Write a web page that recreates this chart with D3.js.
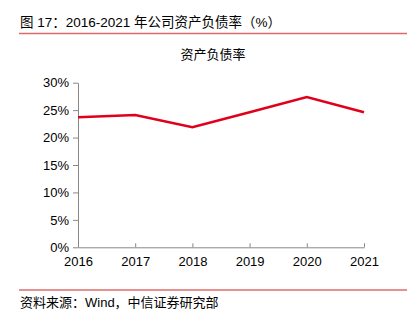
<!DOCTYPE html>
<html><head><meta charset="utf-8">
<script src="https://cdn.jsdelivr.net/npm/d3@7"></script>
<style>body{margin:0;background:#fff;}svg{display:block;font-family:"Liberation Sans","Noto Sans CJK SC",sans-serif;}</style>
</head><body><svg id="c" width="417" height="322"></svg>
<script>
const years = ["2016","2017","2018","2019","2020","2021"];
const debtRatio = [23.7, 24.1, 21.9, 24.6, 27.4, 24.6];
const yTicks = [0,5,10,15,20,25,30];
const titleText = "图 17：2016-2021 年公司资产负债率（%）";
const chartTitle = "资产负债率";
const sourceText = "资料来源：Wind，中信证券研究部";

const svg = d3.select("#c");
const mixed = '"Liberation Sans","Noto Sans CJK SC",sans-serif';
svg.append("text").attr("x",20).attr("y",27).attr("font-size",13.5).attr("font-family",mixed).attr("fill","#000").text(titleText);
svg.append("line").attr("x1",19).attr("x2",407).attr("y1",33.5).attr("y2",33.5).attr("stroke","#e06a6a").attr("stroke-width",1.5);
svg.append("line").attr("x1",19).attr("x2",407).attr("y1",290).attr("y2",290).attr("stroke","#e06a6a").attr("stroke-width",1.5);
svg.append("text").attr("x",20).attr("y",307).attr("font-size",13).attr("font-family",mixed).attr("fill","#000").text(sourceText);
svg.append("text").attr("x",213).attr("y",59).attr("text-anchor","middle").attr("font-size",13).attr("font-family",mixed).attr("fill","#000").text(chartTitle);

const x = d3.scalePoint().domain(years).range([78,364]);
const y = d3.scaleLinear().domain([0,30]).range([247.3,82.7]);

const yAxis = svg.append("g").attr("transform","translate(78,0)")
  .call(d3.axisLeft(y).tickValues(yTicks).tickFormat(d=>d+"%").tickSize(5).tickSizeOuter(0));
const xAxis = svg.append("g").attr("transform","translate(0,247.3)")
  .call(d3.axisBottom(x).tickSize(5).tickSizeOuter(0).tickPadding(4));
[yAxis,xAxis].forEach(a=>{
  a.select(".domain").attr("stroke","#888");
  a.selectAll(".tick line").attr("stroke","#888");
  a.selectAll(".tick text").attr("font-size",13).attr("fill","#000").attr("font-family","Liberation Sans, sans-serif");
});
yAxis.selectAll(".tick text").attr("dx",-1);
xAxis.selectAll(".tick line").attr("y2",-4);

svg.append("path").datum(debtRatio)
  .attr("d", d3.line().x((d,i)=>x(years[i])).y(d=>y(d)))
  .attr("fill","none").attr("stroke","#e0001b").attr("stroke-width",2.5);
</script></body></html>
